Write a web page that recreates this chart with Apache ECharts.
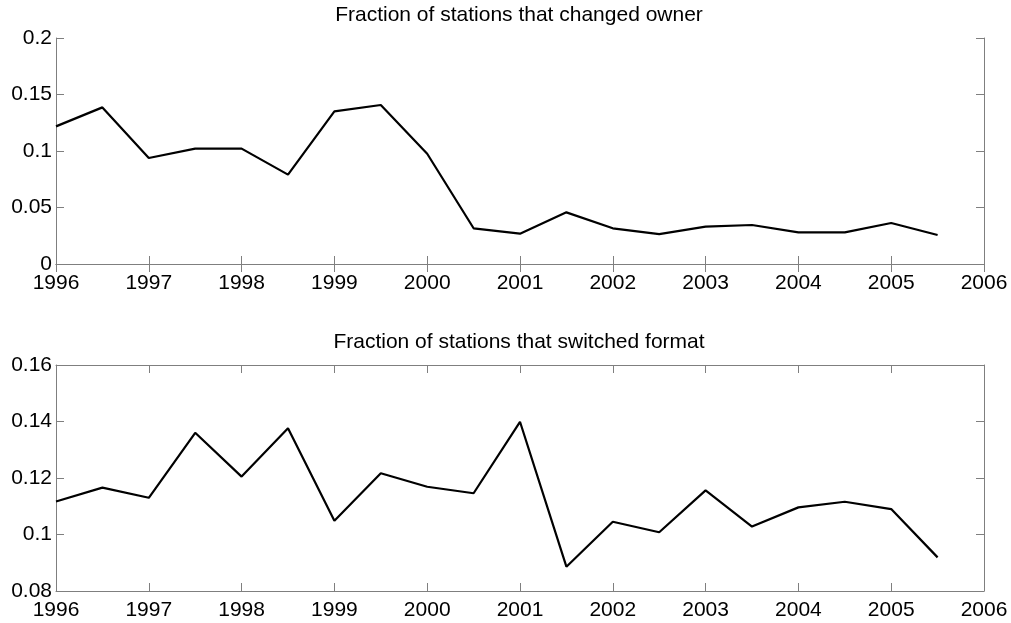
<!DOCTYPE html>
<html>
<head>
<meta charset="utf-8">
<script src="https://cdn.jsdelivr.net/npm/echarts@6/dist/echarts.min.js"></script>
<style>html,body{margin:0;padding:0;background:#fff}#c{width:1011px;height:623px}</style>
</head>
<body>
<div id="c"></div>
<script>
const years = [1996,1996.5,1997,1997.5,1998,1998.5,1999,1999.5,2000,2000.5,2001,2001.5,2002,2002.5,2003,2003.5,2004,2004.5,2005,2005.5];
const ownerChange = [0.1218,0.1386,0.0938,0.1021,0.1021,0.0791,0.1351,0.1407,0.0976,0.0316,0.0268,0.0457,0.0316,0.0265,0.0330,0.0345,0.0280,0.0280,0.0363,0.0257];
const formatSwitch = [0.1117,0.1166,0.1130,0.1360,0.1205,0.1376,0.1049,0.1217,0.1169,0.1146,0.1399,0.0886,0.1045,0.1008,0.1156,0.1028,0.1096,0.1116,0.1090,0.0919];
const titles = ['Fraction of stations that changed owner','Fraction of stations that switched format'];
const xRange = {min:1996, max:2006, interval:1};
const yRanges = [{min:0, max:0.2, interval:0.05},{min:0.08, max:0.16, interval:0.02}];

const FONT = 'Liberation Sans';
const BOX = '#7f7f7f';
const chart = echarts.init(document.getElementById('c'), null, {renderer:'canvas'});
const grids = [{left:56, right:27, top:38, height:226},{left:56, right:27, top:365, height:226}];
const series = [ownerChange, formatSwitch];
const xAxis = [], yAxis = [], ser = [];
grids.forEach((g, i) => {
  const line = {show:true, lineStyle:{color:BOX, width:1}};
  const tick = {show:true, inside:true, length:8, lineStyle:{color:BOX, width:1}};
  xAxis.push({type:'value', gridIndex:i, position:'bottom', min:xRange.min, max:xRange.max, interval:xRange.interval,
    axisLine:line, axisTick:tick, splitLine:{show:false},
    axisLabel:{color:'#000', fontFamily:FONT, fontSize:21, margin:9, formatter:v=>String(v)}});
  xAxis.push({type:'value', gridIndex:i, position:'top', min:xRange.min, max:xRange.max, interval:xRange.interval,
    axisLine:line, axisTick:tick, splitLine:{show:false}, axisLabel:{show:false}});
  const yr = yRanges[i];
  yAxis.push({type:'value', gridIndex:i, position:'left', min:yr.min, max:yr.max, interval:yr.interval,
    axisLine:line, axisTick:tick, splitLine:{show:false},
    axisLabel:{color:'#000', fontFamily:FONT, fontSize:21, margin:4}});
  yAxis.push({type:'value', gridIndex:i, position:'right', min:yr.min, max:yr.max, interval:yr.interval,
    axisLine:line, axisTick:tick, splitLine:{show:false}, axisLabel:{show:false}});
  ser.push({type:'line', xAxisIndex:i*2, yAxisIndex:i*2, data:years.map((y,k)=>[y, series[i][k]]),
    showSymbol:false, symbol:'none', lineStyle:{color:'#000', width:2.2}, animation:false});
});
chart.setOption({
  animation:false,
  backgroundColor:'#fff',
  title: titles.map((t,i)=>({text:t, left:514, textAlign:'center', top: i===0 ? 0 : 327,
    textStyle:{fontFamily:FONT, fontSize:21, fontWeight:'normal', color:'#000'}})),
  grid: grids,
  xAxis, yAxis, series: ser
});
</script>
</body>
</html>
